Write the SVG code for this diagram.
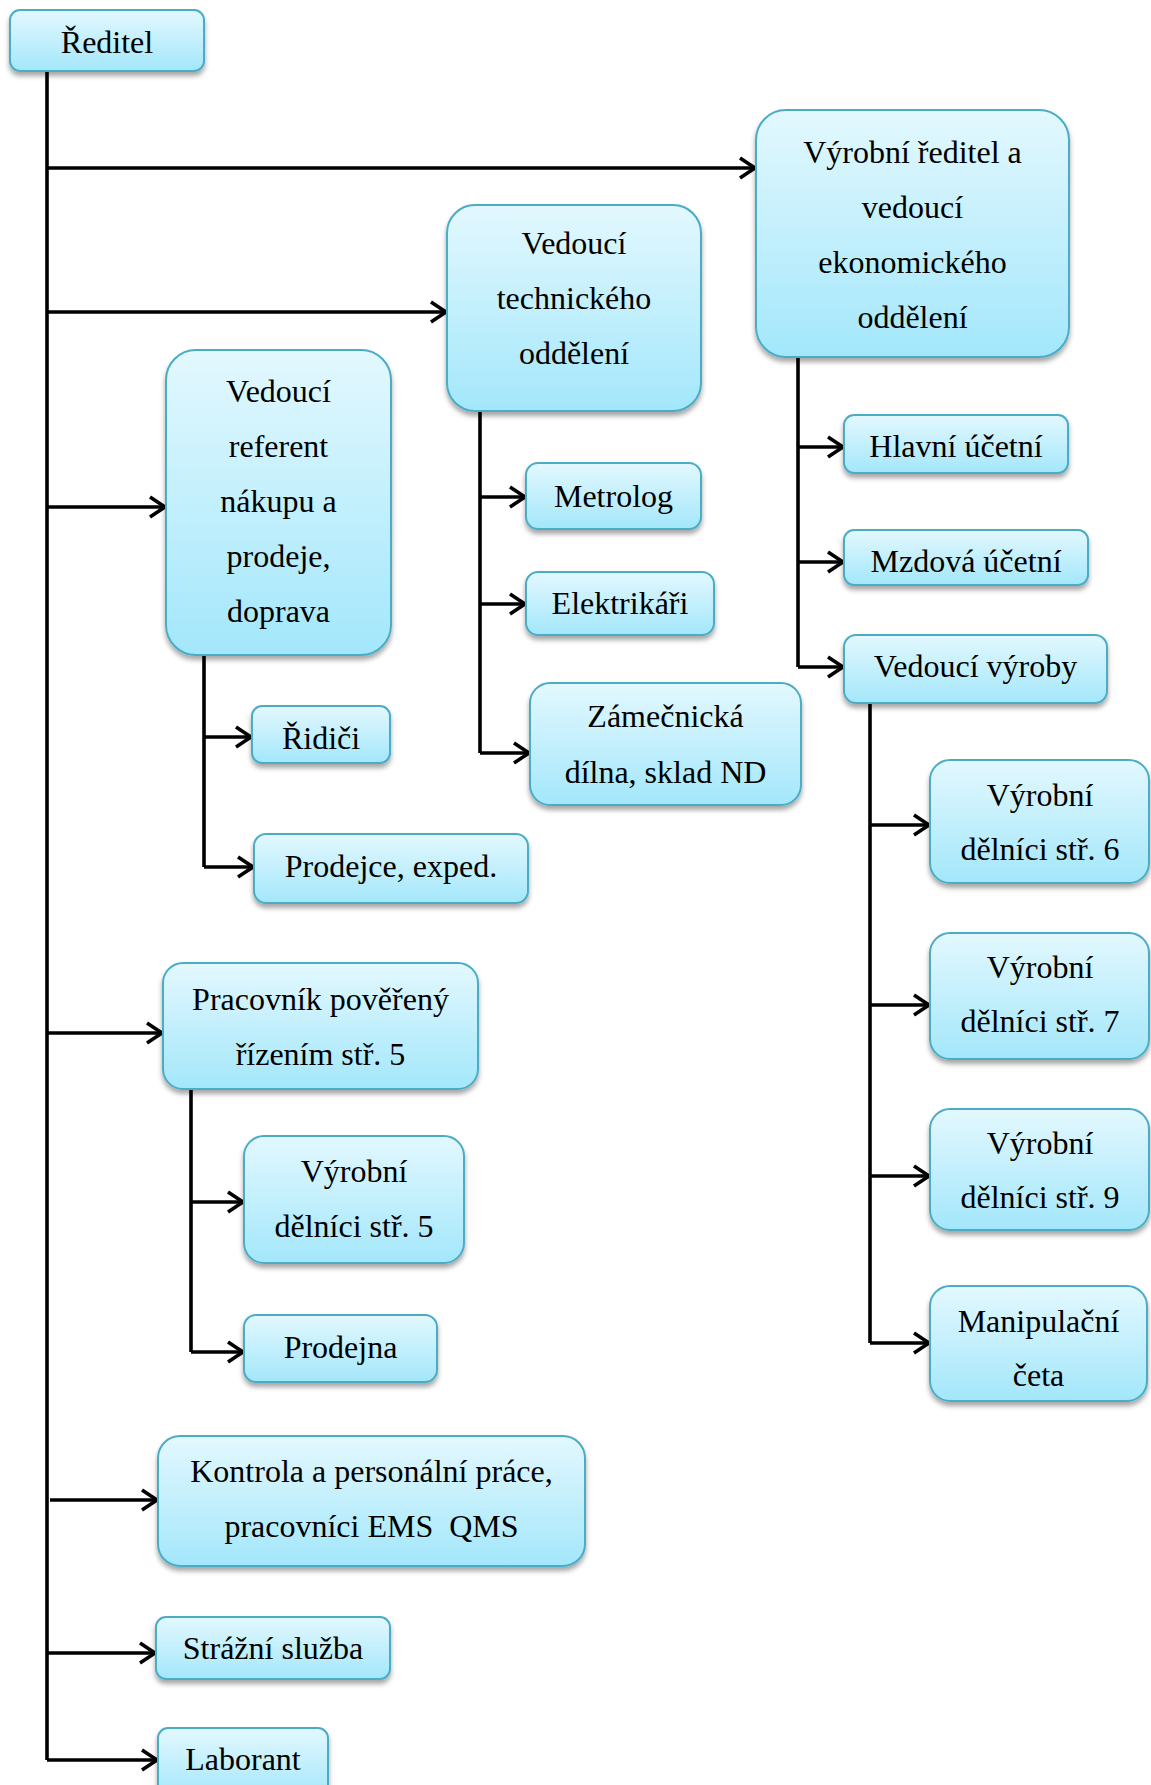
<svg xmlns="http://www.w3.org/2000/svg" width="1151" height="1785" viewBox="0 0 1151 1785">
<style>
.box{fill:url(#g);stroke:#4BACC6;stroke-width:2;filter:url(#sh)}
.t{font-family:"Liberation Serif","Times New Roman",serif;font-size:32px;fill:#000;text-anchor:middle}
.c{fill:none;stroke:#000;stroke-width:3.6}
.a{fill:none;stroke:#000;stroke-width:3.6;marker-end:url(#ah)}
</style>
<defs>
<linearGradient id="g" x1="0" y1="0" x2="0" y2="1">
<stop offset="0" stop-color="#e3f8fe"/>
<stop offset="1" stop-color="#a3e7fb"/>
</linearGradient>
<filter id="sh" x="-10%" y="-10%" width="120%" height="130%">
<feDropShadow dx="0" dy="4" stdDeviation="2.5" flood-color="#000" flood-opacity="0.35"/>
</filter>
<marker id="ah" markerUnits="userSpaceOnUse" viewBox="-20 -14 24 28" refX="0" refY="0" markerWidth="24" markerHeight="28" orient="auto" overflow="visible">
<path d="M-15,-10 L0,0 L-15,10" fill="none" stroke="#000" stroke-width="3.6"/>
</marker>
</defs>

<g id="connectors">
<path class="c" d="M47,71 V1760"/>
<path class="a" d="M47,168 H755"/>
<path class="a" d="M47,312 H446"/>
<path class="a" d="M47,507 H165"/>
<path class="a" d="M47,1033 H162"/>
<path class="a" d="M50,1500 H157"/>
<path class="a" d="M47,1653 H155"/>
<path class="a" d="M47,1760 H157"/>

<path class="c" d="M480,411 V753"/>
<path class="a" d="M480,497 H525"/>
<path class="a" d="M480,604 H525"/>
<path class="a" d="M480,753 H529"/>

<path class="c" d="M798,357 V667"/>
<path class="a" d="M798,447 H843"/>
<path class="a" d="M798,562 H843"/>
<path class="a" d="M798,667 H843"/>

<path class="c" d="M870,703 V1343"/>
<path class="a" d="M870,825 H929"/>
<path class="a" d="M870,1005 H929"/>
<path class="a" d="M870,1176 H929"/>
<path class="a" d="M870,1343 H929"/>

<path class="c" d="M204,655 V867"/>
<path class="a" d="M204,737 H251"/>
<path class="a" d="M204,867 H253"/>

<path class="c" d="M191,1089 V1352"/>
<path class="a" d="M191,1202 H243"/>
<path class="a" d="M191,1352 H243"/>
</g>

<g id="reditel"><rect class="box" x="10" y="10" width="194" height="61" rx="10"/><text class="t" x="107" y="53">Ředitel</text></g>

<g id="vyrobni-reditel"><rect class="box" x="756" y="110" width="313" height="247" rx="30"/>
<text class="t" x="912.5" y="163">Výrobní ředitel a</text>
<text class="t" x="912.5" y="218">vedoucí</text>
<text class="t" x="912.5" y="273">ekonomického</text>
<text class="t" x="912.5" y="328">oddělení</text></g>

<g id="vedouci-tech"><rect class="box" x="447" y="205" width="254" height="206" rx="28"/>
<text class="t" x="574" y="254">Vedoucí</text>
<text class="t" x="574" y="309">technického</text>
<text class="t" x="574" y="364">oddělení</text></g>

<g id="vedouci-referent"><rect class="box" x="166" y="350" width="225" height="305" rx="30"/>
<text class="t" x="278.5" y="402">Vedoucí</text>
<text class="t" x="278.5" y="457">referent</text>
<text class="t" x="278.5" y="512">nákupu a</text>
<text class="t" x="278.5" y="567">prodeje,</text>
<text class="t" x="278.5" y="622">doprava</text></g>

<g id="metrolog"><rect class="box" x="526" y="463" width="175" height="66" rx="12"/><text class="t" x="613.5" y="507">Metrolog</text></g>
<g id="elektrikari"><rect class="box" x="526" y="572" width="188" height="63" rx="12"/><text class="t" x="620" y="614">Elektrikáři</text></g>
<g id="zamecnicka"><rect class="box" x="530" y="683" width="271" height="122" rx="20"/>
<text class="t" x="665.5" y="727">Zámečnická</text>
<text class="t" x="665.5" y="783">dílna, sklad ND</text></g>

<g id="hlavni-ucetni"><rect class="box" x="844" y="415" width="224" height="58" rx="10"/><text class="t" x="956" y="457">Hlavní účetní</text></g>
<g id="mzdova-ucetni"><rect class="box" x="844" y="530" width="244" height="55" rx="10"/><text class="t" x="966" y="572">Mzdová účetní</text></g>
<g id="vedouci-vyroby"><rect class="box" x="844" y="635" width="263" height="68" rx="12"/><text class="t" x="975.5" y="677">Vedoucí výroby</text></g>

<g id="delnici-6"><rect class="box" x="930" y="760" width="219" height="123" rx="20"/>
<text class="t" x="1040" y="806">Výrobní</text><text class="t" x="1040" y="860">dělníci stř. 6</text></g>
<g id="delnici-7"><rect class="box" x="930" y="933" width="219" height="126" rx="20"/>
<text class="t" x="1040" y="978">Výrobní</text><text class="t" x="1040" y="1032">dělníci stř. 7</text></g>
<g id="delnici-9"><rect class="box" x="930" y="1109" width="219" height="121" rx="20"/>
<text class="t" x="1040" y="1154">Výrobní</text><text class="t" x="1040" y="1208">dělníci stř. 9</text></g>
<g id="manipulacni"><rect class="box" x="930" y="1286" width="217" height="115" rx="20"/>
<text class="t" x="1038.5" y="1332">Manipulační</text><text class="t" x="1038.5" y="1386">četa</text></g>

<g id="ridici"><rect class="box" x="252" y="706" width="138" height="57" rx="10"/><text class="t" x="321" y="749">Řidiči</text></g>
<g id="prodejce"><rect class="box" x="254" y="834" width="274" height="69" rx="12"/><text class="t" x="391" y="877">Prodejce, exped.</text></g>

<g id="pracovnik"><rect class="box" x="163" y="963" width="315" height="126" rx="20"/>
<text class="t" x="320.5" y="1010">Pracovník pověřený</text>
<text class="t" x="320.5" y="1065">řízením stř. 5</text></g>
<g id="delnici-5"><rect class="box" x="244" y="1136" width="220" height="127" rx="20"/>
<text class="t" x="354" y="1182">Výrobní</text><text class="t" x="354" y="1237">dělníci stř. 5</text></g>
<g id="prodejna"><rect class="box" x="244" y="1315" width="193" height="67" rx="12"/><text class="t" x="340.5" y="1358">Prodejna</text></g>

<g id="kontrola"><rect class="box" x="158" y="1436" width="427" height="130" rx="22"/>
<text class="t" x="371.5" y="1482">Kontrola a personální práce,</text>
<text class="t" x="371.5" y="1537" xml:space="preserve">pracovníci EMS  QMS</text></g>
<g id="strazni"><rect class="box" x="156" y="1617" width="234" height="62" rx="10"/><text class="t" x="273" y="1659">Strážní služba</text></g>
<g id="laborant"><rect class="box" x="158" y="1728" width="170" height="70" rx="10"/><text class="t" x="243" y="1770">Laborant</text></g>
</svg>
